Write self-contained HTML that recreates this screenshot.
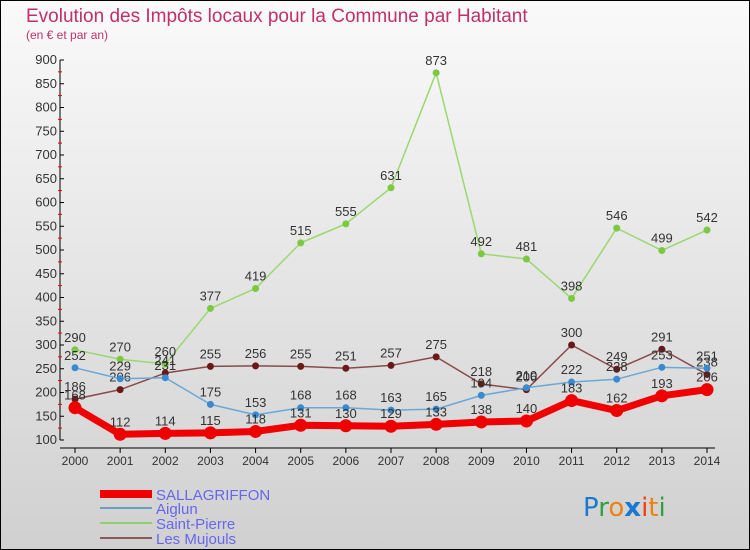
<!DOCTYPE html>
<html><head><meta charset="utf-8"><style>
body{margin:0;width:750px;height:550px;overflow:hidden;font-family:"Liberation Sans",sans-serif;}
svg{display:block}
</style></head><body>
<svg id="chart" width="750" height="550" xmlns="http://www.w3.org/2000/svg">
<defs><linearGradient id="bg" x1="0" y1="0" x2="0" y2="1"><stop offset="0" stop-color="#fafafa"/><stop offset="1" stop-color="#d0d0d0"/></linearGradient></defs>
<rect x="0" y="0" width="750" height="550" fill="url(#bg)" stroke="#000" stroke-width="2"/>
<text x="26" y="22" font-size="19" fill="#c0306a">Evolution des Impôts locaux pour la Commune par Habitant</text>
<text x="26" y="39" font-size="12" fill="#c0306a">(en € et par an)</text>
<g id="axes"></g><g id="series"></g>
<g>
<rect x="100" y="490" width="52" height="8" fill="#f00000"/>
<text x="156" y="500" font-size="15" fill="#6666ee">SALLAGRIFFON</text>
<line x1="100" y1="508" x2="152" y2="508" stroke="#6aa0c8" stroke-width="2"/>
<text x="156" y="514" font-size="15" fill="#6666ee">Aiglun</text>
<line x1="100" y1="523" x2="152" y2="523" stroke="#90d070" stroke-width="2"/>
<text x="156" y="529" font-size="15" fill="#6666ee">Saint-Pierre</text>
<line x1="100" y1="538" x2="152" y2="538" stroke="#8a5a5a" stroke-width="2"/>
<text x="156" y="544" font-size="15" fill="#6666ee">Les Mujouls</text>
</g>
<g font-size="26" font-family="'DejaVu Sans',sans-serif">
<text x="583" y="516"><tspan fill="#1a78d0">P</tspan><tspan fill="#30a040">r</tspan><tspan fill="#f08010">o</tspan><tspan fill="#1a78d0" font-weight="bold">x</tspan><tspan fill="#f04010">i</tspan><tspan fill="#f08010">t</tspan><tspan fill="#30a040">i</tspan></text>
</g>
</svg>
<script>
const years=[2000,2001,2002,2003,2004,2005,2006,2007,2008,2009,2010,2011,2012,2013,2014];
const yTicks=[100,150,200,250,300,350,400,450,500,550,600,650,700,750,800,850,900];
const sallagriffon=[168,112,114,115,118,131,130,129,133,138,140,183,162,193,206];
const aiglun=[252,229,231,175,153,168,168,163,165,194,210,222,228,253,251];
const saintPierre=[290,270,260,377,419,515,555,631,873,492,481,398,546,499,542];
const mujouls=[186,206,241,255,256,255,251,257,275,218,206,300,249,291,238];
const NS="http://www.w3.org/2000/svg";
const xs=i=>75+i*(632/14);
const ys=v=>440-(v-100)*0.475;
function mk(tag,attrs,parent){const e=document.createElementNS(NS,tag);for(const k in attrs)e.setAttribute(k,attrs[k]);parent.appendChild(e);return e;}
const ax=document.getElementById('axes');
const yAxis=mk('line',{x1:60,y1:60,x2:60,y2:440,stroke:'#000'},ax);


yTicks.forEach((t,i)=>{
 const y=ys(t);
 mk('line',{x1:60,y1:y,x2:64,y2:y,stroke:'#000'},ax);
 if(i<yTicks.length-1) mk('line',{x1:58,y1:y-11.9,x2:62,y2:y-11.9,stroke:'#e00'},ax);
 const tx=mk('text',{x:57,y:y+4,'font-size':13,'text-anchor':'end',fill:'#333'},ax);
 tx.textContent=t;
 
 
});
const xAxis=mk('line',{x1:60,y1:448,x2:715,y2:448,stroke:'#000'},ax);


years.forEach((yr,i)=>{
 mk('line',{x1:xs(i),y1:448,x2:xs(i),y2:453,stroke:'#000'},ax);
 const tx=mk('text',{x:xs(i),y:465,'font-size':12,'text-anchor':'middle',fill:'#333'},ax);
 tx.textContent=yr;
 
 
});
const sg=document.getElementById('series');
function draw(vals,name,color,w,r,ptColor){
 const g=mk('g',{},sg);
 
 
 const pl=mk('polyline',{points:vals.map((v,i)=>xs(i)+','+ys(v)).join(' '),fill:'none',stroke:color,'stroke-width':w,'stroke-linejoin':'round'},g);
 
 
 vals.forEach((v,i)=>{
  const c=mk('circle',{cx:xs(i),cy:ys(v),r:r,fill:ptColor},g);
  
  
  const t=mk('text',{x:xs(i),y:ys(v)-8,'font-size':13,'text-anchor':'middle',fill:'#333'},g);
  t.textContent=v;
  
  
 });
}
draw(saintPierre,'saint-pierre','#9ad870',1.5,3.5,'#7cc840');
draw(mujouls,'les-mujouls','#8a4a4a',1.5,3.5,'#6a1818');
draw(aiglun,'aiglun','#6aa8d8',1.5,3.5,'#3a8ad0');
draw(sallagriffon,'sallagriffon','#f00000',7,6.5,'#ee0000');
</script>
</body></html>
